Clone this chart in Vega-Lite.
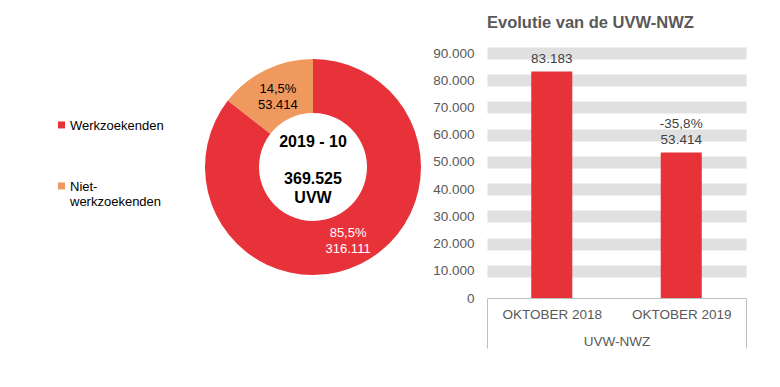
{
  "$schema": "https://vega.github.io/schema/vega-lite/v6.json",
  "padding": {"left": 55, "top": 14, "right": 0, "bottom": 0},
  "config": {
    "font": "Liberation Sans",
    "view": {"stroke": null},
    "concat": {"spacing": 4},
    "locale": {"number": {"decimal": ",", "thousands": ".", "grouping": [3], "currency": ["€", ""]}}
  },
  "hconcat": [
    {
      "width": 230,
      "height": 228,
      "data": {"values": [
        {"cat": "Werkzoekenden", "value": 316111, "label": "85,5%\n316.111"},
        {"cat": "Niet-werkzoekenden", "value": 53414, "label": "14,5%\n53.414"}
      ]},
      "layer": [
        {
          "mark": {"type": "arc", "innerRadius": 54, "outerRadius": 108},
          "encoding": {
            "theta": {"field": "value", "type": "quantitative", "stack": true},
            "order": {"field": "value", "sort": "descending"},
            "color": {
              "field": "cat", "type": "nominal",
              "scale": {"domain": ["Werkzoekenden", "Niet-werkzoekenden"], "range": ["#E8323A", "#F0995F"]},
              "legend": {
                "orient": "none", "legendX": -143, "legendY": 70, "padding": 0,
                "title": null, "labelFontSize": 13, "labelColor": "#000000",
                "labelBaseline": "alphabetic", "labelOffset": 2,
                "symbolType": "M-1,-2.3H1V-0.3H-1Z", "symbolSize": 49, "symbolStrokeWidth": 0,
                "rowPadding": 47, "labelLimit": 200,
                "labelExpr": "datum.label === 'Niet-werkzoekenden' ? ['Niet-', 'werkzoekenden'] : datum.label"
              }
            }
          }
        },
        {
          "mark": {"type": "text", "radius": 80, "fontSize": 13, "lineBreak": "\n", "lineHeight": 16, "baseline": "middle", "align": "center", "dy": -6},
          "encoding": {
            "theta": {"field": "value", "type": "quantitative", "stack": true},
            "order": {"field": "value", "sort": "descending"},
            "detail": {"field": "cat", "type": "nominal"},
            "text": {"field": "label", "type": "nominal"},
            "color": {"condition": {"test": "datum.cat === 'Werkzoekenden'", "value": "#ffffff"}, "value": "#000000"}
          }
        },
        {
          "data": {"values": [{"period": "2019 - 10", "total": "369.525\nUVW"}]},
          "layer": [
            {
              "mark": {"type": "text", "fontSize": 16, "fontWeight": "bold", "baseline": "middle", "align": "center", "dy": -25, "color": "#000000"},
              "encoding": {"text": {"field": "period", "type": "nominal"}}
            },
            {
              "mark": {"type": "text", "fontSize": 16, "fontWeight": "bold", "lineBreak": "\n", "lineHeight": 19, "baseline": "middle", "align": "center", "dy": 12, "color": "#000000"},
              "encoding": {"text": {"field": "total", "type": "nominal"}}
            }
          ]
        }
      ]
    },
    {
      "width": 259,
      "height": 245,
      "title": {"text": "Evolutie van de UVW-NWZ", "anchor": "start", "frame": "group", "fontSize": 16.5, "fontWeight": "bold", "color": "#595959", "offset": 15},
      "data": {"values": [
        {"period": "OKTOBER 2018", "value": 83183},
        {"period": "OKTOBER 2019", "value": 53414, "change": "-35,8%"}
      ]},
      "encoding": {
        "x": {
          "field": "period", "type": "nominal",
          "scale": {"paddingInner": 0, "paddingOuter": 0},
          "axis": {
            "title": "UVW-NWZ", "labelAngle": 0, "labelFontSize": 13.5, "labelColor": "#595959",
            "labelPadding": -41, "tickSize": 50, "tickBand": "extent", "tickColor": "#bfbfbf",
            "tickOpacity": {"condition": {"test": "datum.value === 'OKTOBER 2018' && !datum.extra", "value": 0}, "value": 1},
            "domainColor": "#bfbfbf", "titleFontSize": 13.5, "titleFontWeight": "normal", "titleColor": "#595959",
            "titleY": 43, "titleBaseline": "middle"
          }
        },
        "y": {
          "field": "value", "type": "quantitative",
          "scale": {"domain": [0, 90000], "nice": false},
          "axis": {
            "title": null, "values": [0, 10000, 20000, 30000, 40000, 50000, 60000, 70000, 80000, 90000],
            "format": ",d", "labelFontSize": 13.5, "labelColor": "#595959", "labelPadding": 13,
            "ticks": false, "domain": false, "grid": true, "gridWidth": 12,
            "gridColor": {"condition": {"test": "datum.value === 0", "value": "transparent"}, "value": "#e0e0e0"}
          }
        }
      },
      "layer": [
        {"mark": {"type": "bar", "color": "#E8323A", "width": {"band": 0.317}}},
        {
          "mark": {"type": "text", "baseline": "bottom", "dy": -6, "fontSize": 13.5, "color": "#404040"},
          "encoding": {"text": {"field": "value", "type": "quantitative", "format": ",d"}}
        },
        {
          "transform": [{"filter": "isValid(datum.change)"}],
          "mark": {"type": "text", "baseline": "bottom", "dy": -22, "fontSize": 13.5, "color": "#404040"},
          "encoding": {"text": {"field": "change", "type": "nominal"}}
        }
      ]
    }
  ]
}
